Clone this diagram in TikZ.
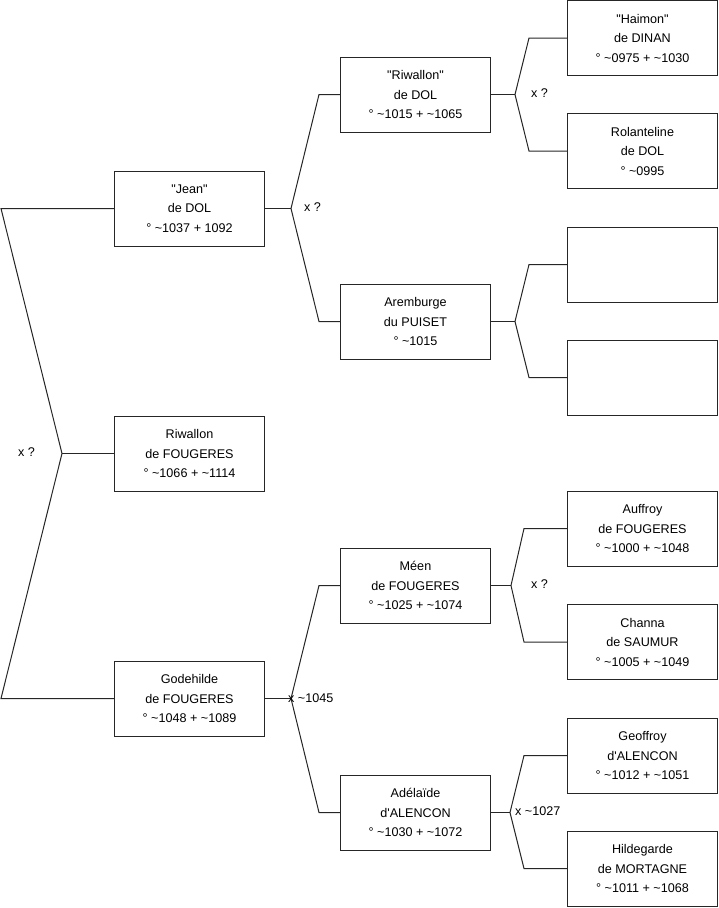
\documentclass[tikz,border=0pt]{standalone}
\usepackage{fontspec}
\setmainfont{Liberation Sans}[Ligatures=TeXOff]
\usepackage{tikz}
\usetikzlibrary{positioning,calc}
\newcommand{\ca}{\textasciitilde}

\begin{document}
\begin{tikzpicture}[x=1pt, y=-1pt,
  pers/.style={draw=black!85, line width=1pt, minimum width=150pt, minimum height=75pt,
               inner sep=0pt, align=center, font=\fontsize{12.6}{19.5}\selectfont},
  mar/.style={anchor=west, inner sep=0pt, font=\fontsize{12.6}{14}\selectfont},
  lnk/.style={draw=black!85, line width=1pt}]
\useasboundingbox (0,0) rectangle (719,908);
% first column
\node[pers] (jean) at (189.5,208.5) {"Jean"\\de DOL\\° \ca1037 + 1092};
\node[pers] (riw)  at (189.5,453.5) {Riwallon\\de FOUGERES\\° \ca1066 + \ca1114};
\node[pers] (gode) at (189.5,698.5) {Godehilde\\de FOUGERES\\° \ca1048 + \ca1089};
% second column
\node[pers] (rdol) at (415.5,94.5)  {"Riwallon"\\de DOL\\° \ca1015 + \ca1065};
\node[pers] (arem) at (415.5,321.5) {Aremburge\\du PUISET\\° \ca1015};
\node[pers] (meen) at (415.5,585.5) {Méen\\de FOUGERES\\° \ca1025 + \ca1074};
\node[pers] (adel) at (415.5,812.5) {Adélaïde\\d'ALENCON\\° \ca1030 + \ca1072};
% third column
\node[pers] (haim) at (642.5,38)    {"Haimon"\\de DINAN\\° \ca0975 + \ca1030};
\node[pers] (rola) at (642.5,151)   {Rolanteline\\de DOL\\° \ca0995};
\node[pers] (emp1) at (642.5,264.5) {};
\node[pers] (emp2) at (642.5,377.5) {};
\node[pers] (auff) at (642.5,528.5) {Auffroy\\de FOUGERES\\° \ca1000 + \ca1048};
\node[pers] (chan) at (642.5,642)   {Channa\\de SAUMUR\\° \ca1005 + \ca1049};
\node[pers] (geof) at (642.5,755.5) {Geoffroy\\d'ALENCON\\° \ca1012 + \ca1051};
\node[pers] (hild) at (642.5,868.5) {Hildegarde\\de MORTAGNE\\° \ca1011 + \ca1068};
% fork points
\coordinate (fa) at (62,453.5);
\coordinate (fb) at (291,208.5);
\coordinate (fc) at (515,94.5);
\coordinate (fd) at (515,321.5);
\coordinate (fe) at (291,698.5);
\coordinate (ff) at (511,585.5);
\coordinate (fg) at (510,812.5);
% links
\foreach \f/\a/\b/\s in {fa/jean/gode/113, fb/rdol/arem/21, fc/haim/rola/38, fd/emp1/emp2/38,
                         fe/meen/adel/21, ff/auff/chan/43, fg/geof/hild/43} {
  \draw[lnk] (\a.west) -- ++(-\s,0) -- (\f);
  \draw[lnk] (\b.west) -- ++(-\s,0) -- (\f);
}
\draw[lnk] (riw.west) -- (fa);
\foreach \p/\f in {jean/fb, rdol/fc, arem/fd, gode/fe, meen/ff, adel/fg} \draw[lnk] (\p.east) -- (\f);
% unions
\node[mar] (m1) at (18,452)  {x ?};
\node[mar] (m2) at (304,207) {x ?};
\node[mar] (m3) at (531,93)  {x ?};
\node[mar] (m4) at (531,584) {x ?};
\node[mar] (m5) at (288,698) {x \ca1045};
\node[mar] (m6) at (515,811) {x \ca1027};
\end{tikzpicture}
\end{document}
